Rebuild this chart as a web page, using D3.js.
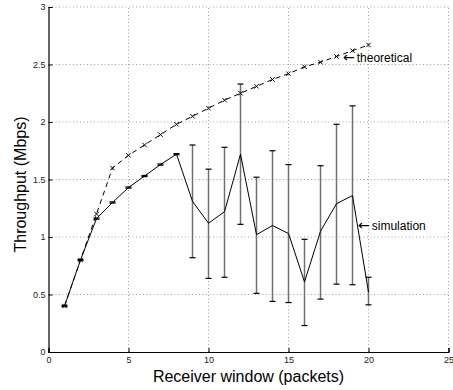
<!DOCTYPE html>
<html>
<head>
<meta charset="utf-8">
<script src="https://cdn.jsdelivr.net/npm/d3@7"></script>
<style>
  body { margin: 0; background: #fff; }
  svg { display: block; font-family: "Liberation Sans", Arial, sans-serif; }
</style>
</head>
<body>
<svg id="chart" width="453" height="390"></svg>
<script>
// receiver window sizes
const windows = [1, 2, 3, 4, 5, 6, 7, 8, 9, 10, 11, 12, 13, 14, 15, 16, 17, 18, 19, 20];
const theoretical = [0.40, 0.80, 1.20, 1.60, 1.71, 1.80, 1.89, 1.98, 2.05, 2.12, 2.19, 2.25, 2.31, 2.37, 2.42, 2.48, 2.52, 2.57, 2.62, 2.67];
const simulation = [0.40, 0.80, 1.16, 1.30, 1.43, 1.53, 1.63, 1.72, 1.31, 1.12, 1.22, 1.72, 1.02, 1.10, 1.03, 0.61, 1.05, 1.29, 1.36, 0.52];
const simLow = [0.395, 0.795, 1.155, 1.295, 1.425, 1.525, 1.625, 1.715, 0.82, 0.64, 0.65, 1.11, 0.51, 0.44, 0.43, 0.23, 0.46, 0.59, 0.585, 0.41];
const simHigh = [0.405, 0.805, 1.165, 1.305, 1.435, 1.535, 1.635, 1.725, 1.80, 1.59, 1.78, 2.33, 1.52, 1.75, 1.63, 0.98, 1.62, 1.98, 2.14, 0.65];
const xTicks = [0, 5, 10, 15, 20, 25];
const yTicks = [0, 0.5, 1, 1.5, 2, 2.5, 3];

const svg = d3.select('#chart');
const plotLeft = 48.5, plotRight = 448.5, plotTop = 7, plotBottom = 352;

const x = d3.scaleLinear().domain([0, 25]).range([plotLeft, plotRight]);
const y = d3.scaleLinear().domain([0, 3]).range([plotBottom, plotTop]);

// dotted grid
svg.append('g')
  .selectAll('line')
  .data(xTicks.slice(1))
  .enter().append('line')
  .attr('x1', d => x(d)).attr('x2', d => x(d))
  .attr('y1', plotBottom).attr('y2', plotTop)
  .attr('stroke', '#888').attr('stroke-width', 0.8)
  .attr('stroke-dasharray', '1,2.5');

svg.append('g')
  .selectAll('line')
  .data(yTicks.slice(1))
  .enter().append('line')
  .attr('x1', plotLeft).attr('x2', plotRight)
  .attr('y1', d => y(d)).attr('y2', d => y(d))
  .attr('stroke', '#888').attr('stroke-width', 0.8)
  .attr('stroke-dasharray', '1,2.5');

// axes, ticks pointing inward
const xAxis = svg.append('g')
  .attr('transform', 'translate(0,' + plotBottom + ')')
  .call(d3.axisTop(x).tickValues(xTicks).tickSize(4).tickFormat(d3.format('d')));
xAxis.selectAll('text')
  .attr('y', 11).attr('dy', 0)
  .style('font-size', '9px');

const yAxis = svg.append('g')
  .attr('transform', 'translate(' + plotLeft + ',0)')
  .call(d3.axisRight(y).tickValues(yTicks).tickSize(4).tickFormat(d => d));
yAxis.selectAll('text')
  .attr('x', -3).attr('text-anchor', 'end')
  .style('font-size', '9px');

[xAxis, yAxis].forEach(a => {
  a.select('.domain').attr('stroke', '#000').attr('stroke-width', 1.2);
  a.selectAll('.tick line').attr('stroke', '#000');
  a.selectAll('text').attr('fill', '#222');
});

// error bars
const cap = 3;
const bars = svg.append('g');
windows.forEach((w, i) => {
  bars.append('line')
    .attr('x1', x(w)).attr('x2', x(w))
    .attr('y1', y(simLow[i])).attr('y2', y(simHigh[i]))
    .attr('stroke', '#707070').attr('stroke-width', 1.5);
  [simLow[i], simHigh[i]].forEach(v => {
    bars.append('line')
      .attr('x1', x(w) - cap).attr('x2', x(w) + cap)
      .attr('y1', y(v)).attr('y2', y(v))
      .attr('stroke', '#000').attr('stroke-width', 1.2);
  });
});

const line = d3.line()
  .x((d, i) => x(windows[i]))
  .y(d => y(d));

svg.append('path')
  .datum(theoretical)
  .attr('fill', 'none')
  .attr('stroke', '#000')
  .attr('stroke-width', 1)
  .attr('stroke-dasharray', '5,4')
  .attr('d', line);

svg.append('path')
  .datum(simulation)
  .attr('fill', 'none')
  .attr('stroke', '#000')
  .attr('stroke-width', 1)
  .attr('d', line);

// x markers on the theoretical curve
const m = 2.2;
svg.append('g')
  .selectAll('path')
  .data(theoretical)
  .enter().append('path')
  .attr('d', (d, i) => {
    const cx = x(windows[i]), cy = y(d);
    return 'M' + (cx - m) + ',' + (cy - m) + 'L' + (cx + m) + ',' + (cy + m) +
      'M' + (cx - m) + ',' + (cy + m) + 'L' + (cx + m) + ',' + (cy - m);
  })
  .attr('stroke', '#000').attr('stroke-width', 1);

// annotations
function note(px, py, label) {
  const t = svg.append('text')
    .attr('x', px).attr('y', py)
    .style('font-size', '12px');
  t.append('tspan')
    .style('font-family', '"DejaVu Sans", sans-serif')
    .style('font-size', '14px')
    .text('\u2190');
  t.append('tspan')
    .attr('dx', 2)
    .text(label);
}
note(343, 62, 'theoretical');
note(358, 230, 'simulation');

// axis labels
svg.append('text')
  .attr('x', (plotLeft + plotRight) / 2).attr('y', 382)
  .attr('text-anchor', 'middle')
  .style('font-size', '16px')
  .text('Receiver window (packets)');

svg.append('text')
  .attr('transform', 'translate(26,' + ((plotTop + plotBottom) / 2 + 5) + ') rotate(-90)')
  .attr('text-anchor', 'middle')
  .style('font-size', '16px')
  .text('Throughput (Mbps)');
</script>
</body>
</html>
